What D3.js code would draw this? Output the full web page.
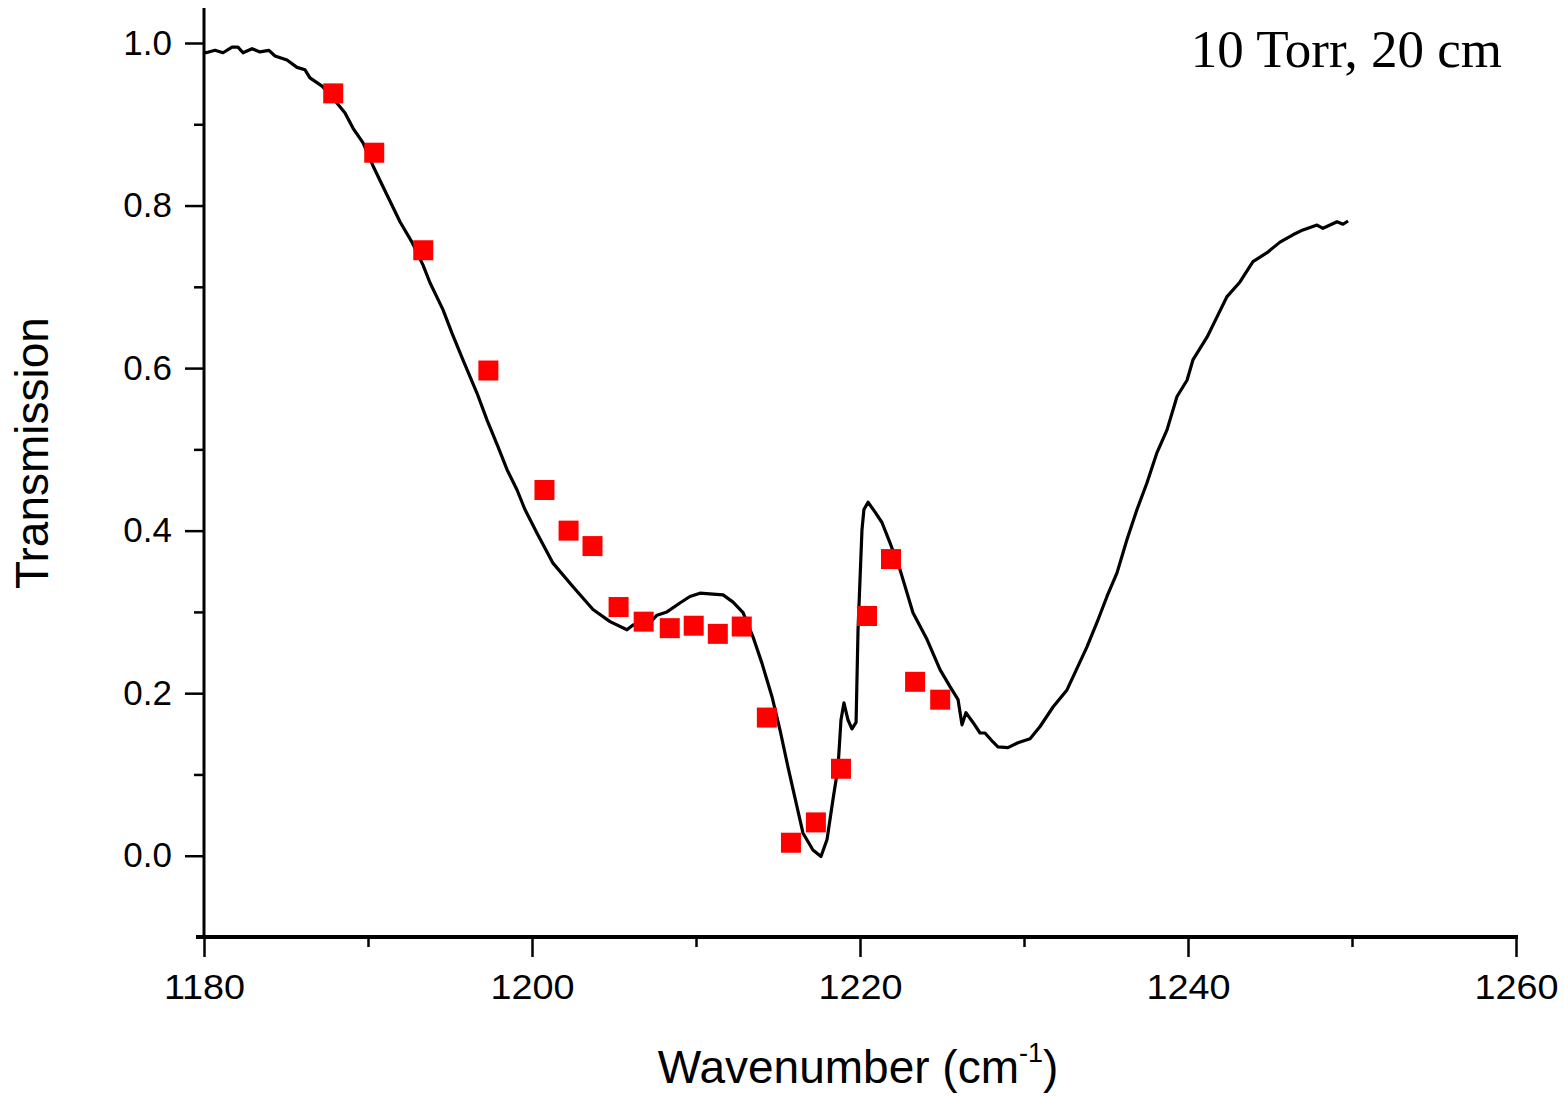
<!DOCTYPE html>
<html>
<head>
<meta charset="utf-8">
<script src="https://cdn.jsdelivr.net/npm/d3@7"></script>
<style>
  body { margin: 0; background: #fff; }
  svg { display: block; }
</style>
</head>
<body>
<svg id="fig" width="1564" height="1096"></svg>
<script>
'use strict';

// measured spectrum (wavenumber, transmission)
const spec_wn = [1180.0, 1180.12, 1180.67, 1181.16, 1181.71, 1182.07, 1182.38, 1182.93, 1183.41, 1183.96,
    1184.33, 1185.06, 1185.67, 1186.16, 1186.46, 1187.2, 1187.87, 1188.6, 1189.09, 1189.7,
    1190.3, 1191.16, 1191.95, 1192.68, 1193.35, 1193.78, 1194.57, 1195.12, 1195.79, 1196.65,
    1197.26, 1197.93, 1198.48, 1199.09, 1199.57, 1200.3, 1201.28, 1202.5, 1203.72, 1204.76,
    1205.79, 1206.16, 1206.89, 1207.62, 1208.23, 1209.02, 1209.63, 1210.24, 1211.04, 1211.65,
    1212.26, 1212.87, 1213.48, 1214.02, 1214.63, 1215.12, 1215.61, 1216.16, 1216.52, 1217.13,
    1217.62, 1217.99, 1218.35, 1218.66, 1218.84, 1219.02, 1219.27, 1219.51, 1219.76, 1219.88,
    1220.12, 1220.24, 1220.49, 1220.91, 1221.34, 1221.83, 1222.44, 1223.23, 1224.09, 1224.88,
    1225.49, 1225.98, 1226.22, 1226.46, 1226.89, 1227.32, 1227.62, 1228.11, 1228.41, 1229.02,
    1229.63, 1230.37, 1230.98, 1231.77, 1232.62, 1232.99, 1233.84, 1234.45, 1235.06, 1235.67,
    1236.28, 1236.89, 1237.5, 1238.11, 1238.72, 1239.33, 1239.94, 1240.3, 1241.16, 1241.77,
    1242.38, 1243.17, 1243.96, 1244.82, 1245.61, 1246.4, 1247.01, 1247.87, 1248.23, 1249.09,
    1249.45, 1249.76];
const spec_tr = [0.989, 0.988, 0.991, 0.988, 0.995, 0.995, 0.988, 0.993, 0.989, 0.991,
    0.984, 0.979, 0.970, 0.967, 0.957, 0.947, 0.932, 0.914, 0.895, 0.877,
    0.849, 0.813, 0.780, 0.755, 0.727, 0.705, 0.672, 0.643, 0.610, 0.569,
    0.536, 0.503, 0.475, 0.450, 0.426, 0.397, 0.360, 0.331, 0.303, 0.288,
    0.278, 0.284, 0.280, 0.296, 0.300, 0.311, 0.319, 0.323, 0.322, 0.321,
    0.312, 0.299, 0.269, 0.237, 0.196, 0.155, 0.109, 0.060, 0.028, 0.007,
    -0.001, 0.020, 0.069, 0.109, 0.167, 0.188, 0.167, 0.156, 0.164, 0.278,
    0.401, 0.426, 0.435, 0.423, 0.410, 0.385, 0.352, 0.299, 0.266, 0.229,
    0.208, 0.192, 0.161, 0.176, 0.164, 0.151, 0.151, 0.140, 0.134, 0.133,
    0.139, 0.144, 0.159, 0.183, 0.204, 0.220, 0.257, 0.287, 0.319, 0.348,
    0.389, 0.426, 0.459, 0.496, 0.524, 0.565, 0.585, 0.610, 0.638, 0.663,
    0.688, 0.706, 0.731, 0.742, 0.755, 0.764, 0.770, 0.776, 0.772, 0.780,
    0.777, 0.781];

// calculated points (red squares)
const calc_wn = [1187.88, 1190.38, 1193.37, 1197.34, 1200.76, 1202.23, 1203.69, 1205.28, 1206.81, 1208.40,
    1209.86, 1211.33, 1212.79, 1214.32, 1215.79, 1217.31, 1218.84, 1220.43, 1221.89, 1223.36, 1224.89];
const calc_tr = [0.938, 0.865, 0.745, 0.597, 0.450, 0.400, 0.381, 0.306, 0.288, 0.280,
    0.283, 0.273, 0.282, 0.170, 0.016, 0.041, 0.107, 0.295, 0.365, 0.214, 0.192];

const x_ticks = [1180, 1200, 1220, 1240, 1260];
const x_minor = [1190, 1210, 1230, 1250];
const y_ticks = [0.0, 0.2, 0.4, 0.6, 0.8, 1.0];
const y_minor = [0.1, 0.3, 0.5, 0.7, 0.9];

const fig = {
    svg: d3.select('#fig'),
    x0: 204, x1: 1516,
    y_bottom: 937, y_top_val: 43,
    font: '"Liberation Sans", Arial, sans-serif',
    tick_font: 35,
    title_font: 46,
    sq: 20,

    draw: function() {
        const svg = this.svg;
        const x = d3.scaleLinear().domain([1180, 1260]).range([this.x0, this.x1]);
        const y = d3.scaleLinear().domain([-0.1, 1.0]).range([this.y_bottom, this.y_top_val]);

        // x axis
        const gx = svg.append('g')
            .attr('transform', 'translate(0,' + this.y_bottom + ')');
        gx.call(d3.axisBottom(x).tickValues(x_ticks).tickSize(20).tickPadding(17)
            .tickFormat(d3.format('d')));
        gx.append('g').call(d3.axisBottom(x).tickValues(x_minor).tickSize(10).tickFormat(''));
        gx.selectAll('.domain').remove();
        gx.selectAll('line').attr('stroke', '#000').attr('stroke-width', 2.5);
        // labels are a bit wider in the original
        gx.selectAll('text').attr('font-family', this.font).attr('font-size', this.tick_font)
            .attr('fill', '#000').attr('transform', 'scale(1.08,1)');
        gx.append('line')
            .attr('x1', this.x0 - 8).attr('x2', this.x1 + 2)
            .attr('y1', 0).attr('y2', 0)
            .attr('stroke', '#000').attr('stroke-width', 4);

        // y axis
        const gy = svg.append('g')
            .attr('transform', 'translate(' + this.x0 + ',0)');
        gy.call(d3.axisLeft(y).tickValues(y_ticks).tickSize(19).tickPadding(13)
            .tickFormat(d3.format('.1f')));
        gy.append('g').call(d3.axisLeft(y).tickValues(y_minor).tickSize(10).tickFormat(''));
        gy.selectAll('.domain').remove();
        gy.selectAll('line').attr('stroke', '#000').attr('stroke-width', 2.5);
        gy.selectAll('text').attr('font-family', this.font).attr('font-size', this.tick_font)
            .attr('fill', '#000');
        gy.append('line')
            .attr('x1', 0).attr('x2', 0)
            .attr('y1', 8).attr('y2', this.y_bottom + 2)
            .attr('stroke', '#000').attr('stroke-width', 3);

        // spectrum line
        const pts = spec_wn.map((d, i) => [d, spec_tr[i]]);
        svg.append('path')
            .datum(pts)
            .attr('fill', 'none')
            .attr('stroke', '#000')
            .attr('stroke-width', 3.2)
            .attr('stroke-linejoin', 'round')
            .attr('d', d3.line().x(d => x(d[0])).y(d => y(d[1])));

        // squares
        const calc = calc_wn.map((d, i) => ({wn: d, tr: calc_tr[i]}));
        svg.append('g').selectAll('rect')
            .data(calc)
            .enter()
            .append('rect')
            .attr('x', d => x(d.wn) - this.sq / 2)
            .attr('y', d => y(d.tr) - this.sq / 2)
            .attr('width', this.sq)
            .attr('height', this.sq)
            .attr('fill', '#ff0000');

        // axis titles
        const xt = svg.append('text')
            .attr('x', 858)
            .attr('y', 1083)
            .attr('text-anchor', 'middle')
            .attr('font-family', this.font)
            .attr('font-size', this.title_font)
            .attr('fill', '#000');
        xt.append('tspan').text('Wavenumber (cm');
        xt.append('tspan').attr('font-size', 27).attr('dy', -21).text('-1');
        xt.append('tspan').attr('dy', 21).text(')');

        svg.append('text')
            .attr('transform', 'translate(48,453) rotate(-90)')
            .attr('text-anchor', 'middle')
            .attr('font-family', this.font)
            .attr('font-size', 46)
            .attr('fill', '#000')
            .text('Transmission');

        // annotation
        svg.append('text')
            .attr('x', 1502)
            .attr('y', 67)
            .attr('text-anchor', 'end')
            .attr('font-family', '"Liberation Serif", "Times New Roman", serif')
            .attr('font-size', 53)
            .attr('fill', '#000')
            .text('10 Torr, 20 cm');
    }
};

fig.draw();
</script>
</body>
</html>
